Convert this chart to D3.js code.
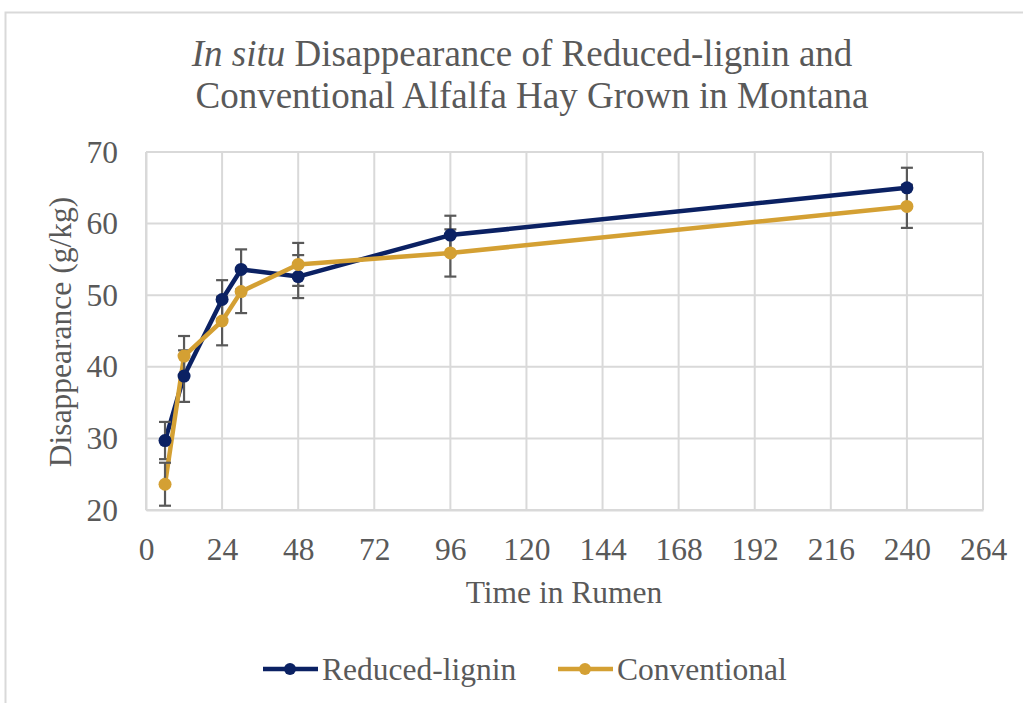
<!DOCTYPE html>
<html>
<head>
<meta charset="utf-8">
<script src="https://cdn.jsdelivr.net/npm/d3@7"></script>
<style>
  body { margin: 0; background: #fff; }
  text { font-family: "Liberation Serif", "Times New Roman", serif; fill: #595959; }
</style>
</head>
<body>
<svg id="chart" width="1023" height="703"></svg>
<script>
// data
var hours = [6, 12, 24, 30, 48, 96, 240];
var reducedLignin = [29.7, 38.7, 49.4, 53.6, 52.6, 58.4, 65.0];
var reducedErr = [2.6, 3.6, 2.7, 2.8, 3.0, 2.7, 2.8];
var conventional = [23.6, 41.5, 46.4, 50.5, 54.3, 55.9, 62.4];
var conventionalErr = [3.0, 2.8, 3.4, 3.0, 3.0, 3.3, 3.0];
var xTicks = [0, 24, 48, 72, 96, 120, 144, 168, 192, 216, 240, 264];
var yTicks = [20, 30, 40, 50, 60, 70];
var seriesNames = ["Reduced-lignin", "Conventional"];
var colors = ["#0b2163", "#d4a033"];

var svg = d3.select("#chart"),
    margin = {top: 152, right: 40, bottom: 193, left: 146},
    width = 983 - margin.left,
    height = 510 - margin.top,
    g = svg.append("g").attr("transform", "translate(" + margin.left + "," + margin.top + ")");

// outer chart border
svg.append("rect")
    .attr("x", 5.5).attr("y", 12.5)
    .attr("width", 1040).attr("height", 720)
    .attr("fill", "none").attr("stroke", "#d9d9d9").attr("stroke-width", 2);

var x = d3.scaleLinear().domain([0, 264]).range([0, width]);
var y = d3.scaleLinear().domain([20, 70]).range([height, 0]);

// grid
g.append("g")
    .selectAll("line")
    .data(xTicks)
    .enter().append("line")
      .attr("x1", function(d) { return x(d); })
      .attr("x2", function(d) { return x(d); })
      .attr("y1", 0).attr("y2", height)
      .attr("stroke", "#d9d9d9").attr("stroke-width", 2);

g.append("g")
    .selectAll("line")
    .data(yTicks)
    .enter().append("line")
      .attr("y1", function(d) { return y(d); })
      .attr("y2", function(d) { return y(d); })
      .attr("x1", 0).attr("x2", width)
      .attr("stroke", "#d9d9d9").attr("stroke-width", 2);

// axes (labels only)
var xAxis = g.append("g")
    .attr("transform", "translate(0," + height + ")")
    .call(d3.axisBottom(x).tickValues(xTicks).tickSize(0).tickPadding(28));
xAxis.select(".domain").attr("stroke", "#d9d9d9").attr("stroke-width", 2);
xAxis.selectAll("text").style("font-size", "31.5px").attr("fill", "#595959");

var yAxis = g.append("g")
    .call(d3.axisLeft(y).tickValues(yTicks).tickSize(0).tickPadding(28));
yAxis.select(".domain").attr("stroke", "#d9d9d9").attr("stroke-width", 2);
yAxis.selectAll("text").style("font-size", "31.5px").attr("fill", "#595959");

// series
var series = [
  {name: seriesNames[0], values: reducedLignin, err: reducedErr, color: colors[0]},
  {name: seriesNames[1], values: conventional, err: conventionalErr, color: colors[1]}
];

var line = d3.line()
    .x(function(d) { return x(d.h); })
    .y(function(d) { return y(d.v); });

series.forEach(function(s) {
  var pts = hours.map(function(h, i) { return {h: h, v: s.values[i], e: s.err[i]}; });

  g.append("path")
      .datum(pts)
      .attr("fill", "none")
      .attr("stroke", s.color)
      .attr("stroke-width", 4.5)
      .attr("stroke-linejoin", "round")
      .attr("d", line);

  var eb = g.append("g").attr("stroke", "#595959").attr("stroke-width", 2.2);
  eb.selectAll("line.v").data(pts).enter().append("line")
      .attr("x1", function(d) { return x(d.h); })
      .attr("x2", function(d) { return x(d.h); })
      .attr("y1", function(d) { return y(d.v - d.e); })
      .attr("y2", function(d) { return y(d.v + d.e); });
  eb.selectAll("line.lo").data(pts).enter().append("line")
      .attr("x1", function(d) { return x(d.h) - 6; })
      .attr("x2", function(d) { return x(d.h) + 6; })
      .attr("y1", function(d) { return y(d.v - d.e); })
      .attr("y2", function(d) { return y(d.v - d.e); });
  eb.selectAll("line.hi").data(pts).enter().append("line")
      .attr("x1", function(d) { return x(d.h) - 6; })
      .attr("x2", function(d) { return x(d.h) + 6; })
      .attr("y1", function(d) { return y(d.v + d.e); })
      .attr("y2", function(d) { return y(d.v + d.e); });

  s.pts = pts;
});

series.forEach(function(s) {
  g.append("g")
    .selectAll("circle")
    .data(s.pts)
    .enter().append("circle")
      .attr("cx", function(d) { return x(d.h); })
      .attr("cy", function(d) { return y(d.v); })
      .attr("r", 6.5)
      .attr("fill", s.color);
});

// title
var title = svg.append("text")
    .attr("text-anchor", "middle")
    .style("font-size", "37px");
var t1 = title.append("tspan").attr("x", 522).attr("y", 66);
t1.append("tspan").attr("font-style", "italic").text("In situ");
t1.append("tspan").text(" Disappearance of Reduced-lignin and");
title.append("tspan").attr("x", 532).attr("y", 108).text("Conventional Alfalfa Hay Grown in Montana");

// axis titles
svg.append("text")
    .attr("text-anchor", "middle")
    .attr("x", 564).attr("y", 603)
    .style("font-size", "31.5px")
    .text("Time in Rumen");

svg.append("text")
    .attr("text-anchor", "middle")
    .attr("transform", "translate(71,332) rotate(-90)")
    .style("font-size", "31.5px")
    .text("Disappearance (g/kg)");

// legend
var legendX = [263, 558];
var legend = svg.append("g")
  .selectAll("g")
  .data(series)
  .enter().append("g")
    .attr("transform", function(d, i) { return "translate(" + legendX[i] + ",669)"; });

legend.append("line")
    .attr("x1", 0).attr("x2", 55)
    .attr("stroke", function(d) { return d.color; })
    .attr("stroke-width", 4.5);
legend.append("circle")
    .attr("cx", 27).attr("r", 6)
    .attr("fill", function(d) { return d.color; });
legend.append("text")
    .attr("x", 59).attr("dy", "0.35em")
    .style("font-size", "31.5px")
    .text(function(d) { return d.name; });
</script>
</body>
</html>
